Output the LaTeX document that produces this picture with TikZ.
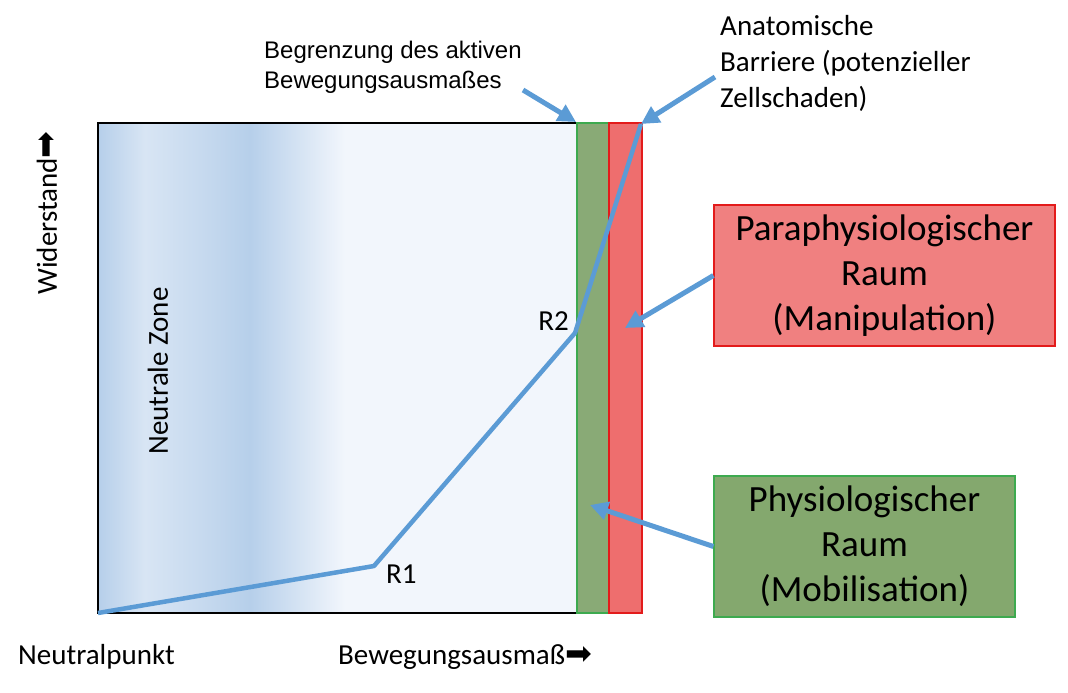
\documentclass[tikz,border=0pt]{standalone}
\usepackage{fontspec}
\setmainfont{Carlito}
\newfontfamily\arialfont{Liberation Sans}
\newfontfamily\symfont{DejaVu Sans}
\usetikzlibrary{arrows.meta}
\definecolor{lineblue}{HTML}{5B9BD5}
\definecolor{zonedark}{HTML}{B6CFEA}
\definecolor{zonemid}{HTML}{C7DAEF}
\definecolor{zonelight}{HTML}{D8E5F4}
\definecolor{zonewhite}{HTML}{F2F6FC}
\definecolor{physfill}{HTML}{89AA76}
\definecolor{physbox}{HTML}{84A86E}
\definecolor{physborder}{HTML}{3DAA4F}
\definecolor{parafill}{HTML}{EE6E6E}
\definecolor{parabox}{HTML}{F08080}
\definecolor{paraborder}{HTML}{E31B1B}

\begin{document}
\begin{tikzpicture}[x=1pt,y=-1pt]
    \tikzstyle{curve}=[draw,line width = 4.5pt,lineblue,line join=round]
    \tikzstyle{pointer}=[draw,line width = 5pt,lineblue,-{Triangle[length=18pt,width=18pt]}]
    \tikzstyle{annot}=[inner sep=0pt,align=left,font=\fontsize{29}{36}\selectfont]
    \tikzstyle{spacebox}=[draw,line width = 1.2pt,inner sep=0pt,align=center,font=\fontsize{37}{45}\selectfont]
    \useasboundingbox (0,0) rectangle (1068,693);
    % neutral zone shading
    \shade[left color=zonedark, right color=zonelight] (98,123) rectangle (145,613);
    \shade[left color=zonelight, right color=zonemid] (145,123) rectangle (200,613);
    \shade[left color=zonemid, right color=zonedark] (200,123) rectangle (250,613);
    \shade[left color=zonedark, right color=zonewhite] (250,123) rectangle (345,613);
    \fill[zonewhite] (345,123) rectangle (577,613);
    \draw[line width = 1.5pt,black] (577,123) -- (98,123) -- (98,613) -- (577,613);
    % barriers
    \draw[fill=physfill,draw=physborder,line width = 1.5pt] (577,123) rectangle (609,613);
    \draw[fill=parafill,draw=paraborder,line width = 1.5pt] (609,123) rectangle (642,613);
    % resistance curve
    \coordinate (np) at (98,613);
    \coordinate (r1) at (374,566);
    \coordinate (r2) at (575,333);
    \coordinate (ab) at (641,124);
    \draw[curve] (np) -- (r1) -- (r2) -- (ab);
    \node[annot,anchor=north west] (l1) at (386,565) {R1};
    \node[annot,anchor=south east] (l2) at (569,331) {R2};
    % axis texts
    \node[annot,rotate=90] (zone) at (158,371) {Neutrale Zone};
    \node[annot,rotate=90] (ws) at (47,213) {Widerstand{\symfont\fontsize{32}{32}\selectfont ➡}};
    \node[annot,anchor=west] (npl) at (18,657) {Neutralpunkt};
    \node[annot,anchor=west] (bw) at (338,657) {Bewegungsausmaß{\symfont\fontsize{32}{32}\selectfont ➡}};
    % annotations
    \node[annot,anchor=west,font=\arialfont\fontsize{24}{30}\selectfont] (grenze) at (264,67) {Begrenzung des aktiven\\Bewegungsausmaßes};
    \node[annot,anchor=west] (barr) at (720,63) {Anatomische\\Barriere (potenzieller\\Zellschaden)};
    \node[spacebox,fill=parabox,draw=paraborder,minimum width=341pt,minimum height=141pt] (para) at (884.5,275.5) {Paraphysiologischer\\Raum\\(Manipulation)};
    \node[spacebox,fill=physbox,draw=physborder,minimum width=301pt,minimum height=141pt] (phys) at (864.5,546.5) {Physiologischer\\Raum\\(Mobilisation)};
    \coordinate (g0) at (523,90);
    \coordinate (g1) at (576,122);
    \coordinate (b0) at (715,77);
    \coordinate (p1) at (625,328);
    \coordinate (f1) at (590,505);
    \draw[pointer] (g0) -- (g1);
    \draw[pointer] (b0) -- (ab);
    \draw[pointer] (para.west) -- (p1);
    \draw[pointer] (phys.west) -- (f1);
\end{tikzpicture}
\end{document}
